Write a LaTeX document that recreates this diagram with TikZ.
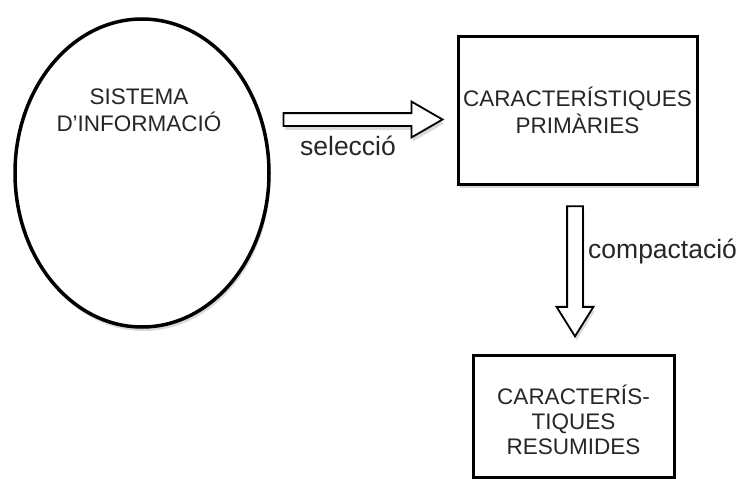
\documentclass[tikz,border=0pt]{standalone}
\usepackage{fontspec}
\setmainfont{Liberation Sans}
\usetikzlibrary{positioning,shapes.geometric,shapes.arrows,shadows,calc}

\tikzset{
  softshadow/.style={drop shadow={opacity=0.3,shadow xshift=1.5pt,shadow yshift=-4pt}},
  block/.style={draw,line width=3pt,fill=white,softshadow},
  blocktext/.style={font=\fontsize{22.5}{27}\selectfont,align=center,text=black!85},
  flow/.style={single arrow,draw,line width=1.8pt,fill=white,softshadow},
  flowlabel/.style={font=\fontsize{26.5}{30}\selectfont,text=black!85,inner sep=0pt}
}

\begin{document}
\begin{tikzpicture}[x=1pt,y=-1pt]
    \useasboundingbox (0,0) rectangle (742,479);
    % shapes
    \node[block,ellipse,line width=3.5pt,minimum width=254pt,minimum height=308pt] (sys) at (142,173) {};
    \node[block,minimum width=239pt,minimum height=148pt] (prim) at (577.5,110) {};
    \node[block,minimum width=201pt,minimum height=122pt] (res) at (573.5,416) {};
    % texts
    \node[blocktext] (systxt) at (139,110) {SISTEMA\\D’INFORMACIÓ};
    \node[blocktext] (primtxt) at (prim) {CARACTERÍSTIQUES\\PRIMÀRIES};
    \node[blocktext,font=\fontsize{22.5}{25}\selectfont] (restxt) at ($(res)+(0,4)$) {CARACTERÍS-\\TIQUES\\RESUMIDES};
    % block arrows
    \node[flow,minimum height=159pt,inner sep=5.5pt,single arrow head extend=11.5pt,single arrow tip angle=60] (sel) at (357.5,119.5) {};
    \node[flow,shape border rotate=270,minimum height=130pt,inner sep=7pt,single arrow head extend=10.5pt,single arrow tip angle=64] (comp) at (575,265) {};
    \node[flowlabel,anchor=base] (sellab) at (348,155) {selecció};
    \node[flowlabel,anchor=base west] (complab) at (588,258) {compactació};
\end{tikzpicture}
\end{document}
